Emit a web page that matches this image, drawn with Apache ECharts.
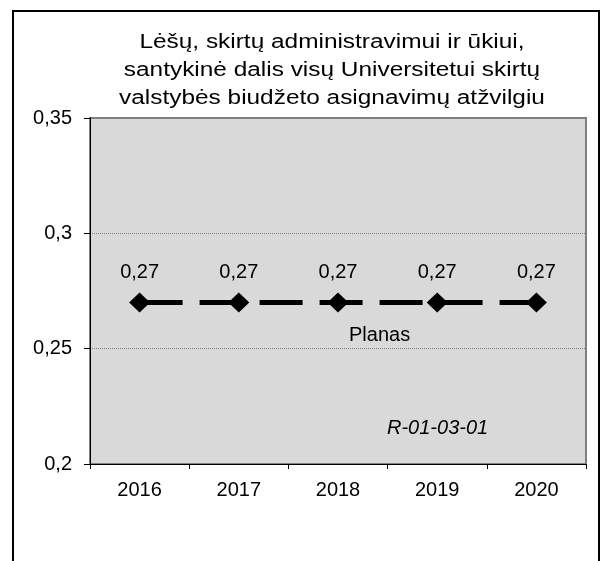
<!DOCTYPE html>
<html>
<head>
<meta charset="utf-8">
<script src="https://cdn.jsdelivr.net/npm/echarts@6/dist/echarts.min.js"></script>
<style>
  html, body { margin: 0; padding: 0; background: #fff; }
  #chart { width: 608px; height: 561px; }
</style>
</head>
<body>
<div id="chart"></div>
<script>
// data
const years = ['2016', '2017', '2018', '2019', '2020']
const planas = [0.27, 0.27, 0.27, 0.27, 0.27]
const yMin = 0.2
const yMax = 0.35
const yStep = 0.05

const titleText = 'Lėšų, skirtų administravimui ir ūkiui,\nsantykinė dalis visų Universitetui skirtų\nvalstybės biudžeto asignavimų atžvilgiu'
const font = '"Liberation Sans", Arial, sans-serif'

function comma (v) {
  return String(+v.toFixed(2)).replace('.', ',')
}

const chart = echarts.init(document.getElementById('chart'))
chart.setOption({
  backgroundColor: '#fff',
  animation: false,
  grid: {
    left: 90,
    right: 22,
    top: 118,
    bottom: 97,
    show: true,
    backgroundColor: '#d9d9d9',
    borderColor: '#808080',
    borderWidth: 2
  },
  xAxis: {
    type: 'category',
    data: years,
    boundaryGap: true,
    axisLine: { lineStyle: { color: '#000', width: 1 } },
    axisTick: { show: true, length: 5, lineStyle: { color: '#000' } },
    axisLabel: { color: '#000', fontFamily: font, fontSize: 20, margin: 16 }
  },
  yAxis: {
    type: 'value',
    min: yMin,
    max: yMax,
    interval: yStep,
    axisLine: { show: true, lineStyle: { color: '#000', width: 1 } },
    axisTick: { show: true, length: 6, lineStyle: { color: '#000' } },
    axisLabel: { color: '#000', fontFamily: font, fontSize: 20, margin: 18, formatter: comma },
    splitLine: { lineStyle: { color: '#808080', type: [1, 1], width: 1 } }
  },
  series: [{
    name: 'Planas',
    type: 'line',
    data: planas,
    symbol: 'diamond',
    symbolSize: [21, 20],
    itemStyle: { color: '#000' },
    lineStyle: { color: '#000', width: 5, type: [43, 17] },
    label: {
      show: true,
      position: 'top',
      distance: 10,
      formatter: p => comma(p.value),
      color: '#000',
      fontFamily: font,
      fontSize: 20
    }
  }],
  graphic: [
    {
      type: 'rect',
      shape: { x: 13, y: 11, width: 586, height: 600 },
      style: { fill: 'none', stroke: '#000', lineWidth: 2 },
      silent: true
    },
    {
      // title, a bit wider than plain Arial as in the source picture
      type: 'text',
      x: 332,
      y: 70,
      scaleX: 1.22,
      style: {
        text: titleText,
        fill: '#000',
        font: '20px ' + font,
        align: 'center',
        verticalAlign: 'middle',
        lineHeight: 28
      }
    },
    {
      type: 'text',
      left: 349,
      top: 325,
      style: { text: 'Planas', fill: '#000', font: '20px ' + font }
    },
    {
      type: 'text',
      left: 387,
      top: 418,
      style: { text: 'R-01-03-01', fill: '#000', font: 'italic 20px ' + font }
    }
  ]
})
</script>
</body>
</html>
